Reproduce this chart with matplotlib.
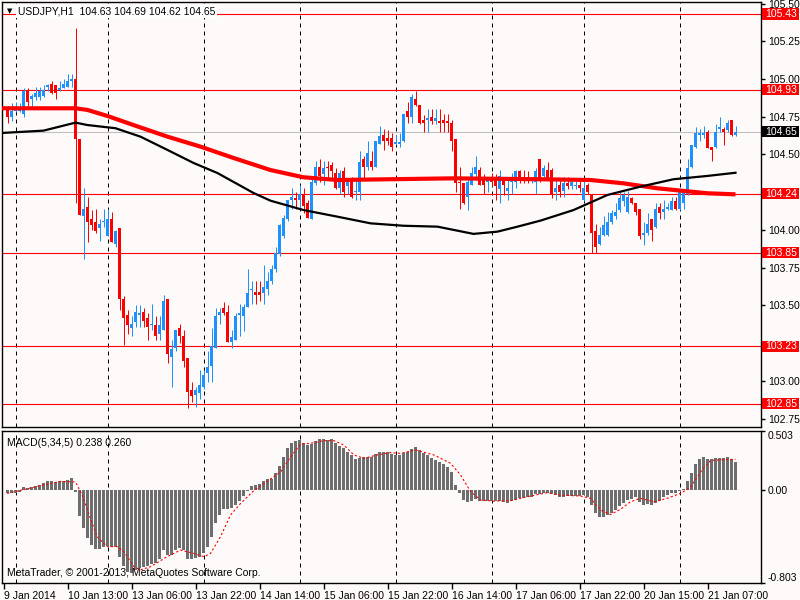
import matplotlib
matplotlib.use("Agg")
import matplotlib.pyplot as plt
from matplotlib.patches import Rectangle
from matplotlib.transforms import blended_transform_factory

symbol_info = "USDJPY,H1  104.63 104.69 104.62 104.65"
macd_info = "MACD(5,34,5) 0.238 0.260"
copyright_text = "MetaTrader, \u00a9 2001-2013, MetaQuotes Software Corp."

# hourly candles (bar 0 = 9 Jan 21:00)
opens = [104.81, 104.75, 104.79, 104.79, 104.77, 104.92, 104.87, 104.88, 104.88, 104.89,
         104.95, 104.97, 104.96, 104.93, 104.94, 104.95, 104.99, 105.00, 104.60, 104.09,
         104.15, 104.07, 104.05, 104.01, 104.05, 103.96, 104.07, 103.91, 104.01, 103.54,
         103.44, 103.35, 103.39, 103.44, 103.46, 103.42, 103.37, 103.37, 103.31, 103.34,
         103.54, 103.16, 103.22, 103.35, 103.30, 103.15, 102.94, 102.91, 102.92, 102.96,
         103.05, 103.10, 103.22, 103.44, 103.48, 103.46, 103.26, 103.27, 103.44, 103.43,
         103.49, 103.60, 103.59, 103.59, 103.58, 103.61, 103.66, 103.74, 103.84, 103.96,
         104.07, 104.20, 104.21, 104.20, 104.23, 104.18, 104.07, 104.31, 104.42, 104.37,
         104.42, 104.43, 104.38, 104.28, 104.39, 104.29, 104.34, 104.25, 104.25, 104.47,
         104.42, 104.46, 104.42, 104.57, 104.63, 104.61, 104.61, 104.57, 104.57, 104.59,
         104.79, 104.75, 104.87, 104.83, 104.73, 104.73, 104.75, 104.72, 104.72, 104.73,
         104.72, 104.71, 104.60, 104.32, 104.31, 104.22, 104.30, 104.37, 104.40, 104.34,
         104.32, 104.33, 104.33, 104.27, 104.35, 104.26, 104.32, 104.32, 104.39, 104.34,
         104.34, 104.33, 104.32, 104.47, 104.36, 104.40, 104.40, 104.25, 104.30, 104.26,
         104.31, 104.29, 104.29, 104.30, 104.20, 104.30, 104.24, 103.99, 103.91, 103.97,
         103.97, 104.05, 104.09, 104.13, 104.19, 104.12, 104.21, 104.18, 104.14, 103.97,
         103.98, 104.07, 104.02, 104.15, 104.12, 104.14, 104.13, 104.19, 104.14, 104.18,
         104.24, 104.42, 104.55, 104.63, 104.63, 104.65, 104.55, 104.55, 104.67, 104.67,
         104.66, 104.73, 104.63]
highs = [104.82, 104.84, 104.85, 104.84, 104.94, 104.94, 104.90, 104.95, 104.95, 104.96,
         104.97, 104.99, 104.96, 104.99, 105.00, 105.03, 105.03, 105.34, 104.60, 104.28,
         104.22, 104.13, 104.14, 104.07, 104.14, 104.14, 104.12, 104.00, 104.01, 103.56,
         103.47, 103.43, 103.50, 103.50, 103.48, 103.45, 103.51, 103.43, 103.43, 103.57,
         103.54, 103.27, 103.34, 103.38, 103.34, 103.15, 102.99, 102.96, 103.07, 103.07,
         103.20, 103.35, 103.48, 103.48, 103.52, 103.50, 103.34, 103.45, 103.51, 103.51,
         103.74, 103.66, 103.66, 103.66, 103.77, 103.72, 103.77, 103.89, 104.04, 104.10,
         104.20, 104.28, 104.25, 104.30, 104.28, 104.20, 104.35, 104.46, 104.47, 104.46,
         104.46, 104.45, 104.41, 104.40, 104.42, 104.34, 104.35, 104.34, 104.52, 104.49,
         104.59, 104.52, 104.59, 104.69, 104.67, 104.66, 104.64, 104.63, 104.64, 104.77,
         104.85, 104.90, 104.92, 104.83, 104.76, 104.80, 104.80, 104.80, 104.80, 104.77,
         104.77, 104.73, 104.60, 104.42, 104.31, 104.35, 104.42, 104.49, 104.42, 104.37,
         104.35, 104.38, 104.37, 104.40, 104.35, 104.33, 104.38, 104.40, 104.40, 104.40,
         104.39, 104.35, 104.41, 104.47, 104.43, 104.45, 104.41, 104.33, 104.33, 104.35,
         104.35, 104.33, 104.34, 104.33, 104.33, 104.31, 104.24, 104.04, 104.02, 104.09,
         104.12, 104.13, 104.18, 104.25, 104.25, 104.26, 104.22, 104.18, 104.14, 104.05,
         104.11, 104.07, 104.18, 104.18, 104.20, 104.18, 104.22, 104.22, 104.26, 104.26,
         104.47, 104.56, 104.68, 104.67, 104.69, 104.66, 104.55, 104.70, 104.75, 104.68,
         104.73, 104.73, 104.69]
lows = [104.71, 104.72, 104.78, 104.78, 104.75, 104.82, 104.82, 104.86, 104.86, 104.88,
        104.92, 104.90, 104.87, 104.92, 104.94, 104.95, 104.95, 104.18, 104.10, 103.81,
        103.92, 104.00, 103.98, 103.93, 104.02, 103.96, 103.92, 103.89, 103.47, 103.24,
        103.31, 103.30, 103.36, 103.36, 103.36, 103.27, 103.34, 103.27, 103.27, 103.34,
        103.12, 102.96, 103.20, 103.25, 103.09, 102.82, 102.86, 102.83, 102.88, 102.95,
        102.99, 102.99, 103.22, 103.38, 103.44, 103.26, 103.22, 103.27, 103.30, 103.33,
        103.49, 103.51, 103.51, 103.53, 103.51, 103.57, 103.64, 103.72, 103.83, 103.95,
        104.06, 104.14, 104.14, 104.14, 104.11, 104.08, 104.07, 104.30, 104.32, 104.30,
        104.33, 104.33, 104.27, 104.24, 104.22, 104.24, 104.21, 104.20, 104.20, 104.33,
        104.40, 104.40, 104.42, 104.57, 104.53, 104.56, 104.52, 104.56, 104.55, 104.58,
        104.71, 104.71, 104.82, 104.70, 104.65, 104.65, 104.70, 104.70, 104.65, 104.65,
        104.65, 104.52, 104.25, 104.14, 104.17, 104.13, 104.30, 104.33, 104.30, 104.24,
        104.25, 104.29, 104.20, 104.18, 104.23, 104.20, 104.24, 104.28, 104.31, 104.31,
        104.31, 104.31, 104.24, 104.32, 104.33, 104.33, 104.21, 104.20, 104.22, 104.22,
        104.27, 104.27, 104.27, 104.25, 104.19, 104.24, 103.85, 103.85, 103.90, 103.96,
        103.96, 104.04, 104.07, 104.12, 104.16, 104.11, 104.17, 104.10, 103.94, 103.90,
        103.97, 103.93, 104.01, 104.07, 104.07, 104.13, 104.13, 104.13, 104.13, 104.14,
        104.23, 104.41, 104.54, 104.59, 104.61, 104.54, 104.46, 104.54, 104.65, 104.56,
        104.65, 104.62, 104.62]
closes = [104.75, 104.79, 104.81, 104.81, 104.92, 104.85, 104.89, 104.91, 104.92, 104.93,
          104.96, 104.91, 104.91, 104.94, 104.97, 104.99, 105.00, 104.60, 104.10, 104.14,
          104.05, 104.03, 103.99, 104.04, 104.06, 104.07, 103.92, 103.99, 103.54, 103.42,
          103.37, 103.38, 103.46, 103.45, 103.40, 103.36, 103.38, 103.30, 103.37, 103.53,
          103.18, 103.21, 103.34, 103.30, 103.13, 102.93, 102.90, 102.94, 102.97, 103.04,
          103.09, 103.23, 103.43, 103.46, 103.45, 103.26, 103.29, 103.43, 103.45, 103.49,
          103.58, 103.61, 103.57, 103.57, 103.62, 103.66, 103.74, 103.85, 104.03, 104.08,
          104.20, 104.22, 104.20, 104.24, 104.16, 104.08, 104.32, 104.42, 104.36, 104.41,
          104.41, 104.39, 104.28, 104.38, 104.25, 104.33, 104.22, 104.26, 104.45, 104.42,
          104.51, 104.42, 104.59, 104.62, 104.59, 104.59, 104.55, 104.58, 104.58, 104.77,
          104.75, 104.88, 104.83, 104.71, 104.71, 104.74, 104.72, 104.74, 104.71, 104.71,
          104.71, 104.59, 104.31, 104.31, 104.18, 104.32, 104.38, 104.42, 104.30, 104.30,
          104.34, 104.32, 104.29, 104.36, 104.30, 104.28, 104.33, 104.39, 104.33, 104.33,
          104.33, 104.34, 104.39, 104.33, 104.41, 104.33, 104.23, 104.28, 104.25, 104.31,
          104.29, 104.32, 104.30, 104.28, 104.28, 104.25, 103.98, 103.89, 103.97, 104.03,
          104.05, 104.11, 104.12, 104.21, 104.23, 104.22, 104.18, 104.12, 103.96, 103.98,
          104.04, 104.00, 104.14, 104.11, 104.14, 104.15, 104.19, 104.14, 104.25, 104.26,
          104.41, 104.56, 104.64, 104.64, 104.64, 104.54, 104.53, 104.65, 104.68, 104.65,
          104.71, 104.63, 104.65]

# moving averages, sampled where they bend
red_ma_x = [-1.75, 17, 20, 25, 31.5, 40, 48.25, 56.5, 65.75, 74, 82.5, 100.75, 111.5,
            133.25, 145.75, 154, 162.5, 175, 182]
red_ma_y = [104.806, 104.806, 104.795, 104.755, 104.695, 104.618, 104.552, 104.477, 104.397,
            104.349, 104.331, 104.338, 104.342, 104.336, 104.331, 104.309, 104.276, 104.243,
            104.236]
black_ma_x = [-1.75, 9, 17, 20, 27, 33.25, 40, 46.5, 52.5, 61.5, 65.75, 74, 82.5, 90.75, 99,
              107.5, 116.5, 122.5, 127.5, 133.25, 141.5, 150, 158.25, 166.5, 175, 182]
black_ma_y = [104.642, 104.658, 104.711, 104.695, 104.674, 104.618, 104.530, 104.444, 104.377,
              104.245, 104.194, 104.132, 104.088, 104.044, 104.028, 104.022, 103.974, 103.989,
              104.022, 104.062, 104.132, 104.232, 104.287, 104.336, 104.358, 104.379]

level_lines = [105.43, 104.93, 104.24, 103.85, 103.23, 102.85]
last_price = 104.65
price_ticks = [102.75, 103.00, 103.50, 103.75, 104.00, 104.50, 104.75, 105.00, 105.25, 105.50]

macd_hist = [-0.033, -0.027, -0.027, -0.018, 0.02, 0.015, 0.02, 0.034, 0.04, 0.06,
             0.07, 0.07, 0.065, 0.07, 0.073, 0.085, 0.097, -0.02, -0.23, -0.334,
             -0.42, -0.478, -0.515, -0.515, -0.492, -0.486, -0.49, -0.49, -0.577, -0.657,
             -0.706, -0.714, -0.691, -0.671, -0.663, -0.657, -0.643, -0.629, -0.6, -0.52,
             -0.563, -0.563, -0.52, -0.506, -0.52, -0.6, -0.6, -0.591, -0.577, -0.549,
             -0.49, -0.405, -0.291, -0.219, -0.17, -0.17, -0.162, -0.133, -0.096, -0.056,
             -0.014, 0.034, 0.043, 0.051, 0.071, 0.091, 0.094, 0.143, 0.2, 0.28,
             0.354, 0.402, 0.42, 0.426, 0.402, 0.382, 0.39, 0.42, 0.434, 0.434,
             0.426, 0.43, 0.402, 0.373, 0.354, 0.325, 0.297, 0.26, 0.268, 0.277,
             0.283, 0.283, 0.302, 0.325, 0.325, 0.325, 0.305, 0.297, 0.30, 0.311,
             0.325, 0.345, 0.368, 0.34, 0.317, 0.297, 0.268, 0.254, 0.234, 0.216,
             0.196, 0.153, 0.043, -0.029, -0.09, -0.105, -0.096, -0.085, -0.096, -0.099,
             -0.099, -0.099, -0.099, -0.099, -0.105, -0.113, -0.099, -0.09, -0.076, -0.07,
             -0.067, -0.062, -0.039, -0.039, -0.033, -0.027, -0.039, -0.047, -0.067, -0.062,
             -0.056, -0.056, -0.056, -0.056, -0.047, -0.067, -0.133, -0.205, -0.234, -0.24,
             -0.219, -0.199, -0.176, -0.142, -0.113, -0.09, -0.085, -0.067, -0.105, -0.133,
             -0.125, -0.133, -0.113, -0.096, -0.067, -0.047, -0.033, -0.027, -0.013, 0.006,
             0.07, 0.146, 0.223, 0.26, 0.28, 0.26, 0.26, 0.268, 0.268, 0.268,
             0.277, 0.26, 0.238]
signal_x = [-0.1, 6.6, 13.25, 17, 18.7, 20.75, 22.4, 24.9, 27.4, 29.1, 31.6, 33.25, 35.75,
            39.9, 43.25, 46.6, 49.1, 50.75, 53.25, 55.75, 58.25, 61.6, 64.9, 68.25, 70.75,
            73.25, 75.75, 79.1, 81.6, 84.1, 86.6, 89.1, 92.4, 95.75, 98.25, 102, 106.6,
            110.75, 113.25, 115.75, 118.25, 121.6, 125.75, 129.9, 134.9, 138.25, 143.25,
            145.75, 148.25, 150.75, 153.25, 155.75, 158.25, 161.6, 164.9, 168.25, 170.75,
            173.25, 175.75, 178.25, 182]
signal_y = [-0.033, 0.02, 0.07, 0.065, -0.05, -0.25, -0.405, -0.49, -0.49, -0.534, -0.663,
            -0.69, -0.663, -0.577, -0.52, -0.549, -0.577, -0.549, -0.405, -0.219, -0.12,
            -0.009, 0.07, 0.15, 0.28, 0.39, 0.397, 0.42, 0.42, 0.382, 0.297, 0.268, 0.297,
            0.317, 0.311, 0.34, 0.297, 0.226, 0.126, -0.017, -0.09, -0.099, -0.096, -0.062,
            -0.027, -0.047, -0.056, -0.076, -0.176, -0.214, -0.17, -0.105, -0.076, -0.105,
            -0.076, -0.033, 0.02, 0.15, 0.25, 0.255, 0.26]

time_tick_pos = [-1, 15, 31, 47, 63, 79, 95, 111, 127, 143, 159, 175]
time_labels = ["9 Jan 2014", "10 Jan 13:00", "13 Jan 06:00", "13 Jan 22:00", "14 Jan 14:00",
               "15 Jan 06:00", "15 Jan 22:00", "16 Jan 14:00", "17 Jan 06:00", "17 Jan 22:00",
               "20 Jan 15:00", "21 Jan 07:00"]
day_breaks = [2, 25, 49, 73, 97, 121, 144, 168]

bg = "#fffafa"
up_col = "#1e90ff"
down_col = "#ff0000"

plt.rcParams["font.family"] = ["Liberation Sans", "DejaVu Sans"]
plt.rcParams["font.size"] = 7

fig = plt.figure(figsize=(8, 6), dpi=100, facecolor=bg)
ax = fig.add_axes([2 / 800, 1 - 427 / 600, 759 / 800, 425 / 600], facecolor=bg)
ax2 = fig.add_axes([2 / 800, 1 - 583 / 600, 759 / 800, 152 / 600], facecolor=bg)

# 4 px per bar, bar centres on pixel centres
x_range = (-1.375, 188.375)

# candles
xs = list(range(len(opens)))
cols = [up_col if c >= o else down_col for o, c in zip(opens, closes)]
bottoms = [min(o, c) for o, c in zip(opens, closes)]
heights = [max(abs(c - o), 0.0066) for o, c in zip(opens, closes)]
ax.vlines(xs, lows, highs, colors=cols, lw=0.72, zorder=3)
ax.bar(xs, heights, bottom=bottoms, width=0.75, color=cols, lw=0, zorder=3)

ax.plot(red_ma_x, red_ma_y, color="red", lw=3.0, zorder=4, solid_capstyle="butt")
ax.plot(black_ma_x, black_ma_y, color="black", lw=1.6, zorder=4)

for lv in level_lines:
    ax.axhline(lv, color="red", lw=0.8, zorder=2)
ax.axhline(last_price, color="#c0c0c0", lw=0.8, zorder=1)

for d in day_breaks:
    ax.axvline(d, color="black", lw=0.72, ls=(0, (4, 4)), zorder=1)
    ax2.axvline(d, color="black", lw=0.72, ls=(0, (4, 4)), zorder=1)

ax.set_xlim(*x_range)
ax.set_ylim(102.695, 105.51)
ax.set_xticks([])
ax.yaxis.tick_right()
ax.set_yticks(price_ticks)
ax.set_yticklabels(["%.2f" % p for p in price_ticks])
ax.tick_params(axis="y", direction="out", length=3, width=1, pad=2, labelsize=7.5)

# price boxes on the right scale
tr = blended_transform_factory(ax.transAxes, ax.transData)
for lv in level_lines:
    ax.add_patch(Rectangle((1.0015, lv - 0.037), 0.049, 0.074, transform=tr,
                           facecolor="red", edgecolor="none", clip_on=False, zorder=6))
    ax.text(1.005, lv, "%.2f" % lv, transform=tr, ha="left", va="center",
            color="white", fontsize=7.5, clip_on=False, zorder=7)
ax.add_patch(Rectangle((1.0015, last_price - 0.037), 0.049, 0.074, transform=tr,
                       facecolor="black", edgecolor="none", clip_on=False, zorder=6))
ax.text(1.005, last_price, "%.2f" % last_price, transform=tr, ha="left", va="center",
        color="white", fontsize=7.5, clip_on=False, zorder=7)

# MACD panel
ax2.bar(xs, macd_hist, width=0.75, color="#6e6e6e", lw=0, zorder=3)
ax2.plot(signal_x, signal_y, color="red", lw=0.8, ls=(0, (2, 2)), zorder=4)
ax2.set_xlim(*x_range)
ax2.set_ylim(-0.803, 0.503)
ax2.yaxis.tick_right()
ax2.set_yticks([-0.803, 0.0, 0.503])
ax2.set_yticklabels(["-0.803", "0.00", "0.503"])
ylabs = ax2.get_yticklabels()
ylabs[0].set_va("bottom")
ylabs[2].set_va("top")
ax2.tick_params(axis="y", direction="out", length=3, width=1, pad=2, labelsize=7.5)
ax2.set_xticks(time_tick_pos)
ax2.set_xticklabels(time_labels, ha="left")
ax2.tick_params(axis="x", direction="out", length=4, width=1, pad=2, labelsize=7.5)

for a in (ax, ax2):
    for s in a.spines.values():
        s.set_color("black")
        s.set_linewidth(1)

ax2.text(0.007, 0.955, macd_info, transform=ax2.transAxes, ha="left", va="top", fontsize=7.5)
ax2.text(0.007, 0.03, copyright_text, transform=ax2.transAxes, ha="left", va="bottom",
         fontsize=7.5)

fig.text(10 / 800, 1 - 11 / 600, "\u25bc", fontsize=5, family="DejaVu Sans",
         ha="center", va="center")
fig.text(18 / 800, 1 - 11 / 600, symbol_info, ha="left", va="center", fontsize=7.5,
         bbox=dict(boxstyle="square,pad=0.15", facecolor="white", edgecolor="none"))

fig.savefig("out.png", dpi=100, facecolor=bg)
